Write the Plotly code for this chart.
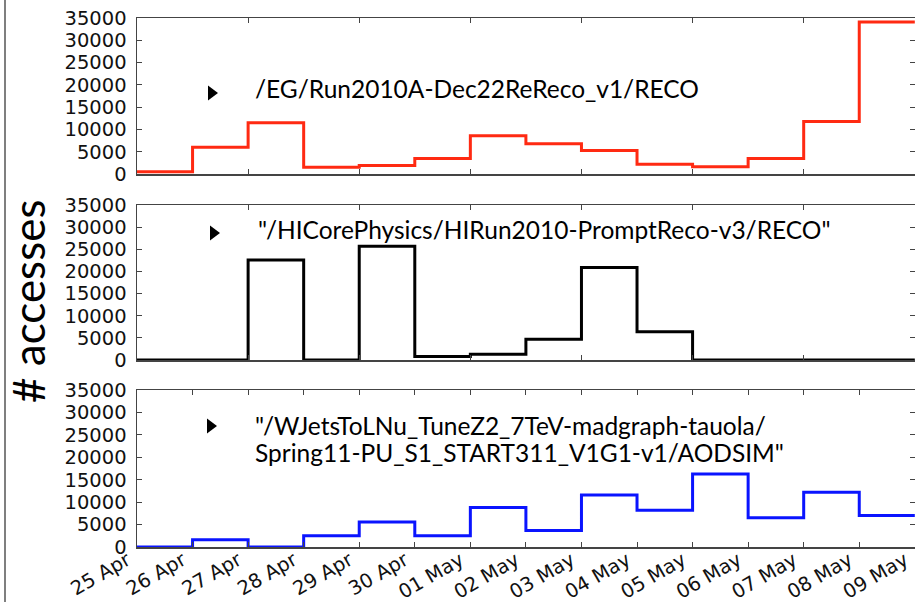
import plotly.graph_objects as go

# ---- data ----
dates = ['2011-04-25', '2011-04-26', '2011-04-27', '2011-04-28', '2011-04-29',
         '2011-04-30', '2011-05-01', '2011-05-02', '2011-05-03', '2011-05-04',
         '2011-05-05', '2011-05-06', '2011-05-07', '2011-05-08', '2011-05-09']
eg_reco = [500, 6000, 11500, 1500, 1900, 3500, 8600, 6800, 5300, 2200, 1600, 3500, 11800, 34100]
hi_reco = [0, 0, 22600, 0, 25700, 800, 1300, 4700, 20900, 6400, 0, 0, 0, 0]
wjets = [0, 1600, 0, 2500, 5600, 2500, 8800, 3700, 11600, 8200, 16300, 6500, 12200, 7000]
names = ['/EG/Run2010A-Dec22ReReco_v1/RECO',
         '"/HICorePhysics/HIRun2010-PromptReco-v3/RECO"',
         '"/WJetsToLNu_TuneZ2_7TeV-madgraph-tauola/<br>Spring11-PU_S1_START311_V1G1-v1/AODSIM"']
colors = ['#ff2a12', '#000000', '#0a14ff']
y_ticks = [0, 5000, 10000, 15000, 20000, 25000, 30000, 35000]
y_title = '# accesses'

W, H = 915, 602
L, R, T, B = 137, 0, 18, 55
PW = W - L - R
PH = H - T - B


def py(p):
    return (H - B - p) / PH


def px(p):
    return (p - L) / PW


panels = [(18, 174), (205, 360), (390, 547)]

fig = go.Figure()
series = [eg_reco, hi_reco, wjets]
for i, vals in enumerate(series):
    ax = '' if i == 2 else str(i + 2)
    fig.add_trace(go.Scatter(
        x=dates, y=vals + [vals[-1]], mode='lines', line_shape='hv',
        line=dict(color=colors[i], width=3),
        xaxis='x' + ax, yaxis='y' + ax, showlegend=False, hoverinfo='skip'))

axis_common = dict(showline=True, linecolor='#444444', linewidth=1.5, mirror='ticks',
                   ticks='inside', ticklen=5, tickcolor='#444444', tickwidth=1,
                   showgrid=False, zeroline=False, automargin=False)
tick_font = dict(family='DejaVu Sans', size=19.5, color='#111111')

layout = dict(width=W, height=H, margin=dict(l=L, r=R, t=T, b=B, autoexpand=False),
              paper_bgcolor='white', plot_bgcolor='white', showlegend=False)
x_range = [dates[0], dates[-1] + ' 00:05']
for i, (top, bot) in enumerate(panels):
    ax = '' if i == 2 else str(i + 2)
    xa = dict(axis_common, type='date', range=x_range,
              domain=[0, 1], anchor='y' + ax, tick0=dates[0])
    if i == 2:
        xa.update(dtick=86400000, tickformat='%d %b', tickangle=-30, tickfont=tick_font,
                  ticklabelstandoff=-7, ticklabelshift=-10, ticklabeloverflow='allow')
    else:
        xa.update(dtick=2 * 86400000, showticklabels=False, matches='x')
    ya = dict(axis_common, range=[0, 35000], tickvals=y_ticks, tickformat='d',
              domain=[py(bot), py(top)], anchor='x' + ax, tickfont=tick_font,
              ticklabelstandoff=5)
    layout['xaxis' + ax] = xa
    layout['yaxis' + ax] = ya
fig.update_layout(**layout)

# legend-like labels
tri_pos = [(213, 93), (215, 233), (212, 426)]
text_pos = [[(255, 88)], [(258, 229)], [(255, 425), (255, 452)]]
for i, (tx, ty) in enumerate(tri_pos):
    fig.add_shape(type='path', xref='paper', yref='paper',
                  path=f'M {px(tx-5)},{py(ty-7.5)} L {px(tx+5)},{py(ty)} L {px(tx-5)},{py(ty+7.5)} Z',
                  fillcolor='black', line=dict(width=0))
    for line_text, (lx, ly) in zip(names[i].split('<br>'), text_pos[i]):
        fig.add_annotation(xref='paper', yref='paper', x=px(lx), y=py(ly), text=line_text,
                           showarrow=False, xanchor='left', yanchor='middle', align='left',
                           xshift=-2, font=dict(family='Lato', size=24.5, color='black'))

fig.add_annotation(xref='paper', yref='paper', x=px(28), y=py(301), text=y_title,
                   textangle=-90, showarrow=False, xanchor='center', yanchor='middle',
                   font=dict(family='Lato', size=44, color='black'))

# outer frame line at left
fig.add_shape(type='line', xref='paper', yref='paper', x0=px(5), x1=px(5), y0=py(0), y1=py(602),
              line=dict(color='#555555', width=1.5))

fig.write_html('out.html', config={'displayModeBar': False, 'staticPlot': True},
               post_script="document.body.style.margin='0px';")
with open('out.html', 'r', encoding='utf-8') as f:
    html = f.read()
html = html.replace('<head>', '<head><style>html,body{margin:0;padding:0;overflow:hidden;}</style>', 1)
with open('out.html', 'w', encoding='utf-8') as f:
    f.write(html)
